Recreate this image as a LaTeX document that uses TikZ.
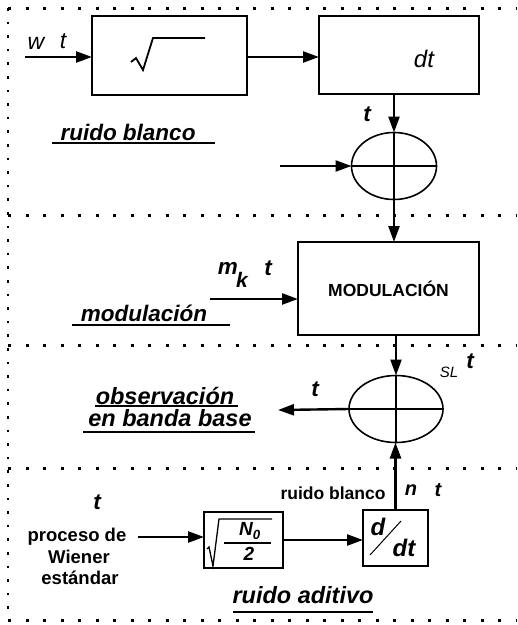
\documentclass[tikz,border=0pt]{standalone}
\usepackage{fontspec}
\setmainfont{Liberation Sans}
\usetikzlibrary{arrows.meta,shapes.geometric}
\begin{document}
\begin{tikzpicture}[x=1pt,y=-1pt,
  blk/.style={draw,line width=1.8pt,inner sep=0pt,outer sep=0pt},
  sumnode/.style={draw,ellipse,line width=1.6pt,inner sep=0pt,outer sep=0pt},
  conn/.style={line width=2.4pt,-{Triangle[length=16pt,width=11pt]}},
  plain/.style={line width=2.2pt},
  uline/.style={line width=2.8pt},
  dotline/.style={line width=3pt,dash pattern=on 3pt off 14.5pt},
  lbl/.style={font=\fontsize{22.5}{24}\selectfont\bfseries\itshape,inner sep=0pt},
  big/.style={font=\fontsize{23.5}{25}\selectfont\bfseries\itshape,inner sep=0pt},
  sm/.style={font=\fontsize{17.5}{19}\selectfont\bfseries,inner sep=0pt},
  smr/.style={font=\fontsize{18.5}{20}\selectfont\bfseries,inner sep=0pt}]
\useasboundingbox (0,0) rectangle (518,625);
% dotted frame
\draw[dotline] (8,8) -- (516,8);
\draw[dotline] (8,215) -- (516,215);
\draw[dotline] (8,345) -- (516,345);
\draw[dotline] (8,468) -- (516,468);
\draw[dotline] (8,620) -- (516,620);
\draw[line width=2.6pt,dash pattern=on 2.6pt off 11pt] (8,8) -- (8,620);
% blocks
\node[blk,minimum width=155pt,minimum height=79pt] (b1) at (169.5,55.5) {};
\node[blk,minimum width=160pt,minimum height=78pt] (b2) at (399,55) {};
\node[sumnode,minimum width=85pt,minimum height=67pt] (e1) at (394,166) {};
\node[blk,minimum width=181pt,minimum height=93pt] (b3) at (388.5,288.5)
  {\fontsize{17.5}{19}\selectfont\bfseries MODULACIÓN};
\node[sumnode,minimum width=94pt,minimum height=67pt] (e2) at (396,409) {};
\node[blk,minimum width=79pt,minimum height=56pt] (b4) at (243.5,540) {};
\node[blk,minimum width=65pt,minimum height=56pt] (b5) at (395.5,538) {};
% sqrt in b1
\draw[line width=1.8pt] (131,62) -- (136,58) -- (143,70) -- (153,38) -- (205,38);
% sqrt(N0/2) in b4
\draw[line width=1.3pt] (207,549) -- (209,547) -- (213,566) -- (219,519) -- (272,519);
\node[font=\fontsize{19}{21}\selectfont\bfseries\itshape,inner sep=0pt] (lN) at (250,531) {N\textsubscript{0}};
\draw[line width=1.3pt] (224,543) -- (271,543);
\node[font=\fontsize{19}{21}\selectfont\bfseries\itshape,inner sep=0pt] (l2) at (249,554) {2};
% d/dt
\node[font=\fontsize{24}{26}\selectfont\bfseries\itshape,inner sep=0pt] (dd) at (378,527) {d};
\node[font=\fontsize{24}{26}\selectfont\bfseries\itshape,inner sep=0pt] (ddt) at (404,548) {dt};
\draw[line width=1pt] (370,555) -- (401,521);
% cross lines
\draw[plain] (e1.west) -- (e1.east);
\draw[plain] (e1.north) -- (e1.south);
\draw[plain] (e2.west) -- (e2.east);
\draw[plain] (e2.north) -- (e2.south);
% coordinates
\coordinate (win) at (25,57);
\coordinate (sin) at (280,166);
\coordinate (mk) at (210,299);
\coordinate (out) at (278,410);
\coordinate (pin) at (138,537);
% connectors
\draw[conn] (win) -- (win -| b1.west);
\draw[conn] (b1.east |- win) -- (win -| b2.west);
\draw[conn] (e1.north |- b2.south) -- (e1.north);
\draw[conn] (sin) -- (e1.west);
\draw[conn] (e1.south) -- (e1.south |- b3.north);
\draw[conn] (mk) -- (mk -| b3.west);
\draw[conn] (e2.north |- b3.south) -- (e2.north);
\draw[conn] (e2.west) -- (out);
\draw[conn] (b5.north) -- (b5.north |- e2.south);
\draw[conn] (b4.east |- 0,540) -- (b5.west |- 0,540);
\draw[conn] (pin) -- (pin -| b4.west);
% labels
\node[font=\fontsize{23}{25}\selectfont\itshape,inner sep=0pt] (lw) at (36,43) {w};
\node[font=\fontsize{23}{25}\selectfont\itshape,inner sep=0pt] (lwt) at (63,41) {t};
\node[font=\fontsize{24}{26}\selectfont\itshape,inner sep=0pt] (ldt) at (424,59) {dt};
\node[lbl] (l1) at (128,132) {ruido blanco};
\draw[uline] (52,143) -- (215,143);
\node[lbl] (lt1) at (367,114) {t};
\node[lbl] (lm) at (228,268) {m};
\node[lbl,font=\fontsize{21}{23}\selectfont\bfseries\itshape] (lk) at (242,280) {k};
\node[lbl] (lmt) at (268,268) {t};
\node[lbl] (lmod) at (144,313) {modulación};
\draw[uline] (72,325) -- (230,325);
\node[lbl] (lt2) at (315,389) {t};
\node[font=\fontsize{15}{17}\selectfont\itshape,inner sep=0pt] (lsl) at (449,372) {SL};
\node[lbl] (lt3) at (470,361) {t};
\node[big] (lobs) at (165,396) {observación};
\draw[uline] (95,406) -- (238,406);
\node[big] (lbb) at (170,418) {en banda base};
\draw[uline] (83,432) -- (255,432);
\node[lbl] (lt4) at (97,502) {t};
\node[smr] (lp1) at (77,537) {proceso de};
\node[smr] (lp2) at (79,557) {Wiener};
\node[smr] (lp3) at (80,578) {estándar};
\node[sm] (lrb) at (333,493) {ruido blanco};
\node[lbl,font=\fontsize{20}{22}\selectfont\bfseries\itshape] (ln) at (411,490) {n};
\node[lbl,font=\fontsize{20}{22}\selectfont\bfseries\itshape] (lnt) at (438,490) {t};
\node[big] (lra) at (303,595) {ruido aditivo};
\draw[uline] (233,612) -- (373,612);
\end{tikzpicture}
\end{document}
